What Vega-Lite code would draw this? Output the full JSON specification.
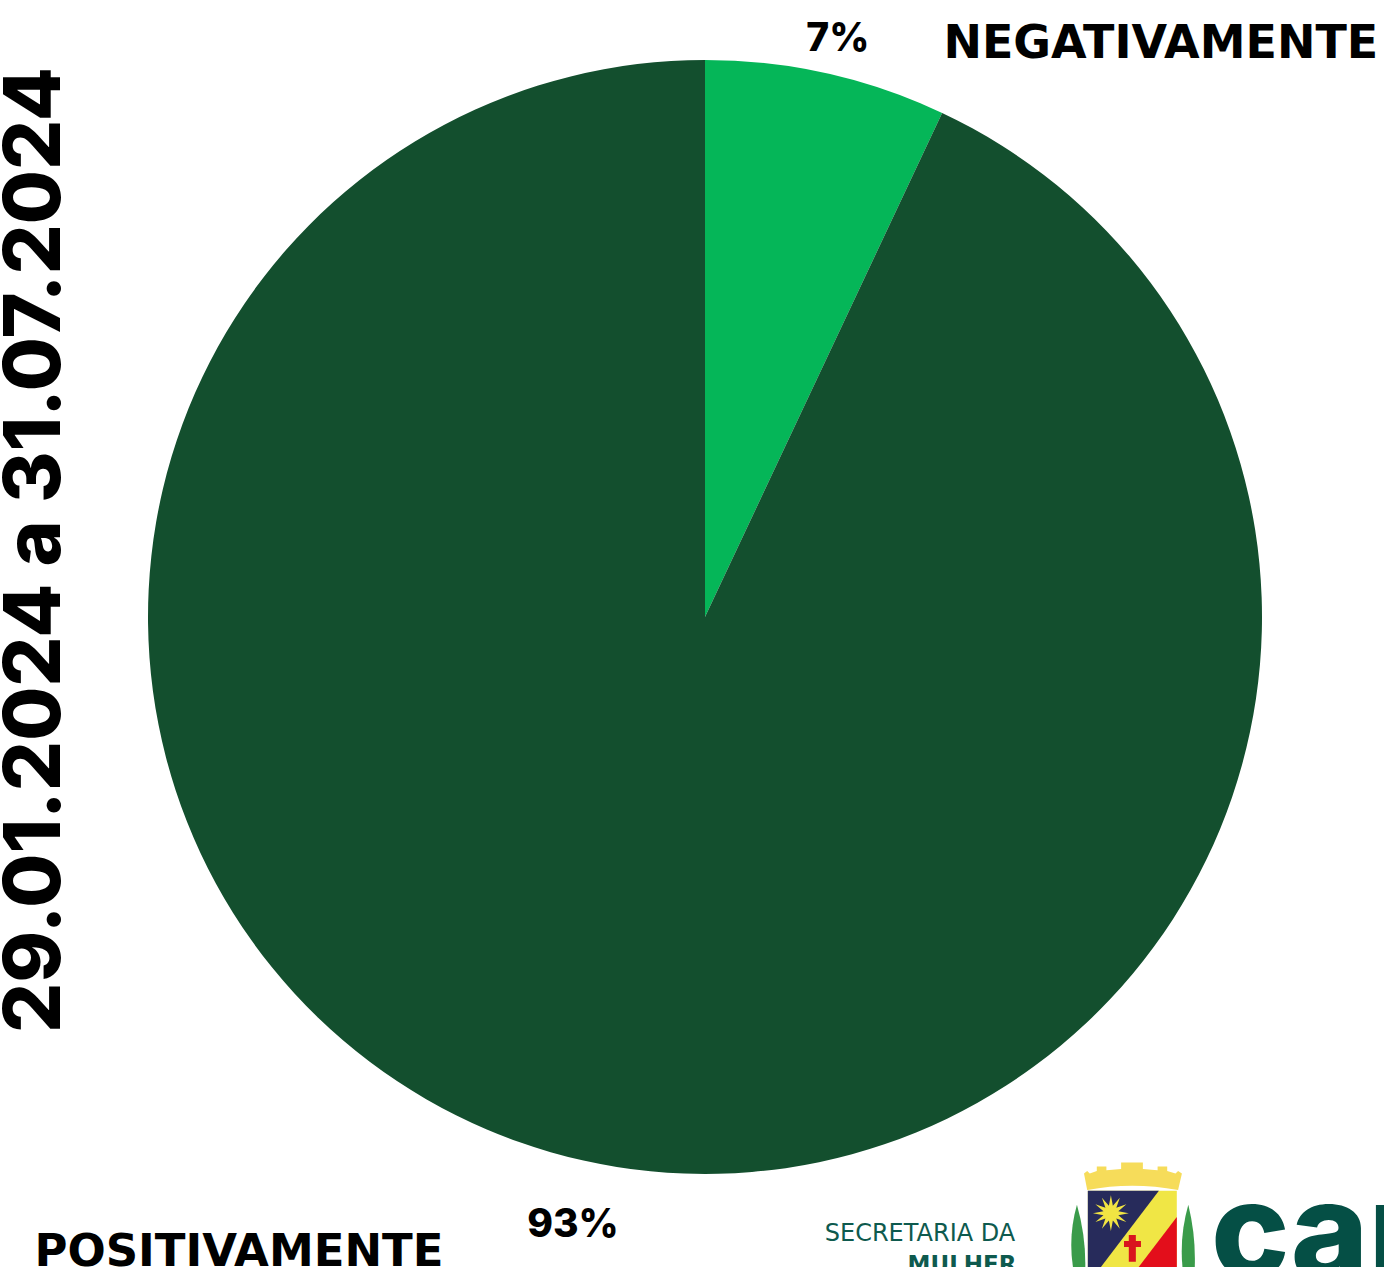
{"$schema":"https://vega.github.io/schema/vega-lite/v6.json","width":1384,"height":1267,"padding":0,"autosize":"none","background":"white","view":{"stroke":null},"resolve":{"scale":{"color":"independent","shape":"independent"}},"datasets":{"slices":[{"categoria":"NEGATIVAMENTE","valor":7,"pct":"7%"},{"categoria":"POSITIVAMENTE","valor":93,"pct":"93%"}],"crest":[{"part":"leafL"},{"part":"leafR"},{"part":"crown"},{"part":"shield"},{"part":"blue"},{"part":"red"},{"part":"sun"},{"part":"cross"}]},"layer":[{"data":{"name":"slices"},"mark":{"type":"arc","radius":557,"xOffset":13,"yOffset":-16.5},"encoding":{"theta":{"field":"valor","type":"quantitative","stack":true},"order":{"field":"categoria"},"color":{"field":"categoria","type":"nominal","scale":{"domain":["NEGATIVAMENTE","POSITIVAMENTE"],"range":["#05B658","#134F2E"]},"legend":null}}},{"data":{"name":"slices"},"mark":{"type":"text","radius":595,"xOffset":13,"yOffset":-16.5,"dx":3,"dy":3,"font":"Inter","fontWeight":800,"fontSize":39,"color":"black"},"encoding":{"theta":{"field":"valor","type":"quantitative","stack":true},"order":{"field":"categoria"},"text":{"condition":{"test":"datum.categoria==='NEGATIVAMENTE'","field":"pct"},"value":""}}},{"data":{"name":"slices"},"mark":{"type":"text","radius":619,"xOffset":13,"yOffset":-16.5,"dx":3,"dy":4,"font":"Inter","fontWeight":800,"fontSize":39,"color":"black"},"encoding":{"theta":{"field":"valor","type":"quantitative","stack":true},"order":{"field":"categoria"},"text":{"condition":{"test":"datum.categoria==='POSITIVAMENTE'","field":"pct"},"value":""}}},{"data":{"name":"slices"},"mark":{"type":"text","radius":595,"xOffset":13,"yOffset":-16.5,"dx":326,"dy":8,"font":"DejaVu Sans","fontWeight":"bold","fontSize":46,"color":"black"},"encoding":{"theta":{"field":"valor","type":"quantitative","stack":true},"order":{"field":"categoria"},"text":{"condition":{"test":"datum.categoria==='NEGATIVAMENTE'","field":"categoria"},"value":""}}},{"data":{"name":"slices"},"mark":{"type":"text","radius":619,"xOffset":13,"yOffset":-16.5,"dx":-331,"dy":31,"font":"DejaVu Sans","fontWeight":"bold","fontSize":45,"color":"black"},"encoding":{"theta":{"field":"valor","type":"quantitative","stack":true},"order":{"field":"categoria"},"text":{"condition":{"test":"datum.categoria==='POSITIVAMENTE'","field":"categoria"},"value":""}}},{"data":{"values":[{"t":"29.01.2024 a 31.07.2024"}]},"mark":{"type":"text","angle":-90,"dx":83.5,"dy":-656,"font":"Inter","fontWeight":800,"fontSize":78.6,"color":"black"},"encoding":{"text":{"field":"t"}}},{"data":{"values":[{"t":"SECRETARIA DA"}]},"mark":{"type":"text","dx":228,"dy":600,"font":"DejaVu Sans","fontSize":24,"color":"#0E5A4E"},"encoding":{"text":{"field":"t"}}},{"data":{"values":[{"t":"MULHER"}]},"mark":{"type":"text","dx":270,"dy":631,"font":"DejaVu Sans","fontWeight":"bold","fontSize":23,"color":"#0E5A4E"},"encoding":{"text":{"field":"t"}}},{"data":{"values":[{"t":"car"}]},"mark":{"type":"text","align":"left","dx":519,"dy":643,"baseline":"alphabetic","font":"Inter","fontWeight":800,"fontSize":132,"color":"#054F45"},"encoding":{"text":{"field":"t"}}},{"data":{"name":"crest"},"mark":{"type":"point","filled":true,"opacity":1,"size":16384,"xOffset":440,"yOffset":583.5,"strokeWidth":0},"encoding":{"shape":{"field":"part","type":"nominal","legend":null,"scale":{"domain":["leafL","leafR","crown","shield","blue","red","sun","cross"],"range":["M-.86 -.19 Q-1 .3 -.92 .8 L-.73 .8 Q-.72 .3 -.86 -.19 Z","M.88 -.19 Q.74 .3 .79 .8 L.98 .8 Q1 .3 .88 -.19 Z","M-.70 -.42 L-.75 -.68 L-.70 -.72 L-.66 -.68 L-.55 -.72 L-.55 -.79 L-.40 -.79 L-.40 -.73 L-.17 -.75 L-.17 -.85 L.17 -.85 L.17 -.75 L.40 -.73 L.40 -.79 L.55 -.79 L.55 -.72 L.68 -.68 L.72 -.72 L.78 -.68 L.72 -.42 Q0 -.56 -.70 -.42 Z","M-.69 -.41 L.70 -.41 L.70 .8 L-.69 .8 Z","M-.69 -.41 L.42 -.41 L-.50 .8 L-.69 .8 Z","M.70 0 L.70 .8 L.09 .8 Z","M-.05 -.06 L-.214 -.029 L-.088 .08 L-.245 .025 L-.19 .182 L-.299 .056 L-.33 .22 L-.361 .056 L-.47 .182 L-.415 .025 L-.572 .08 L-.446 -.029 L-.61 -.06 L-.446 -.091 L-.572 -.2 L-.415 -.145 L-.47 -.302 L-.361 -.176 L-.33 -.34 L-.299 -.176 L-.19 -.302 L-.245 -.145 L-.088 -.2 L-.214 -.091 Z","M-.05 .28 L.06 .28 L.06 .375 L.14 .375 L.14 .47 L.06 .47 L.06 .70 L-.05 .70 L-.05 .47 L-.125 .47 L-.125 .375 L-.05 .375 Z"]}},"color":{"field":"part","type":"nominal","legend":null,"scale":{"domain":["leafL","leafR","crown","shield","blue","red","sun","cross"],"range":["#3A9B4A","#3A9B4A","#F6DC5A","#F0E645","#272B5B","#E30E1B","#F1E443","#D9141E"]}}}}],"config":{"style":{"cell":{"stroke":null}}}}
